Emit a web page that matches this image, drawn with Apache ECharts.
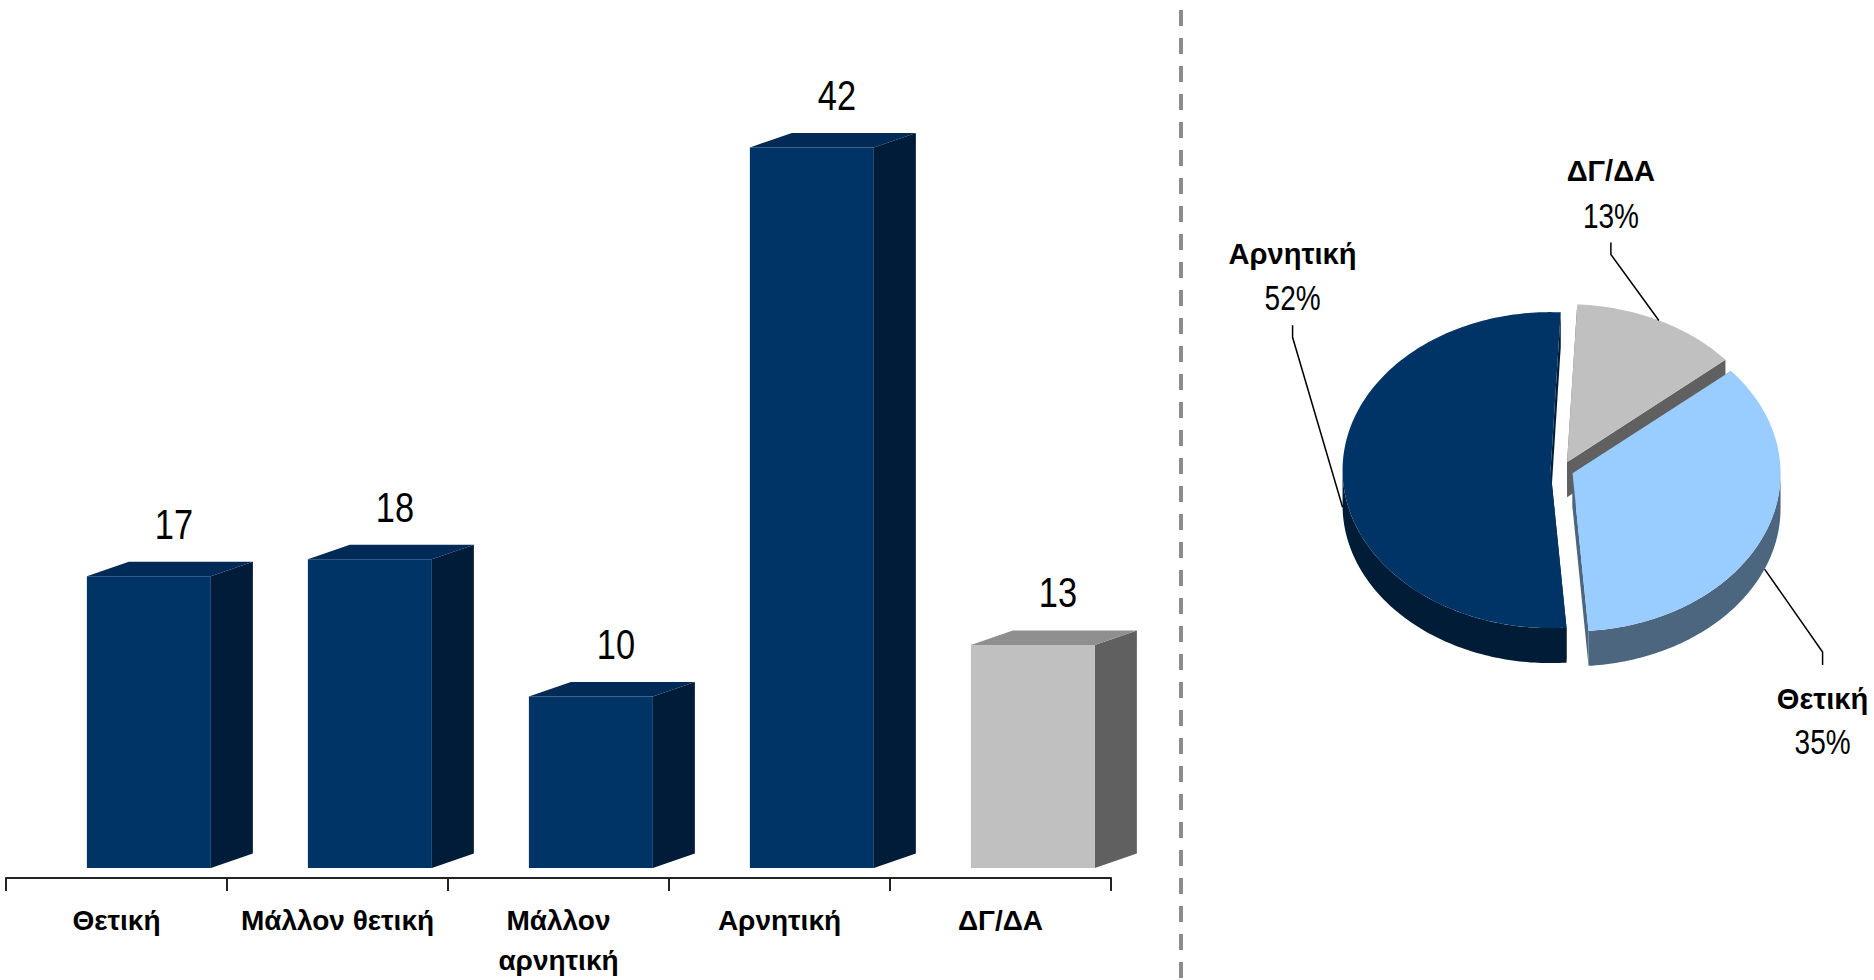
<!DOCTYPE html>
<html>
<head>
<meta charset="utf-8">
<script src="https://cdn.jsdelivr.net/npm/echarts@6/dist/echarts.min.js"></script>
<style>
  html, body { margin: 0; padding: 0; background: #ffffff; }
  #chart { width: 1874px; height: 980px; }
</style>
</head>
<body>
<div id="chart"></div>
<script>
// Answers in detail (3D columns) and grouped answers (3D pie)
const categories = ['Θετική', 'Μάλλον θετική', 'Μάλλον\nαρνητική', 'Αρνητική', 'ΔΓ/ΔΑ'];
const barValues = [17, 18, 10, 42, 13];

const pieNames = ['ΔΓ/ΔΑ', 'Θετική', 'Αρνητική'];
const pieValues = [13, 35, 52];

const SANS = "'Liberation Sans', Arial, sans-serif";
const CONDENSE = 0.8; // horizontal squeeze giving a narrow face

// column faces: [front, side, top]
const navyFaces = ['#003366', '#011c38', '#022a56'];
const greyFaces = ['#c0c0c0', '#606060', '#8f8f8f'];
function barFaces(name) { return name === 'ΔΓ/ΔΑ' ? greyFaces : navyFaces; }

// pie slice faces: [top, wall]
const pieFaces = {
  'ΔΓ/ΔΑ': ['#c0c0c0', '#606060'],
  'Θετική': ['#99ccff', '#4d6680'],
  'Αρνητική': ['#003366', '#011c36']
};

// tilted pie geometry
const PIE = { cx: 1562, cy: 470, rx: 208, ry: 158, depth: 35, explode: 0.055, startDeg: 2.8 };
// leader-line elbow, relative to the slice anchor
const pieLabelElbow = { 'ΔΓ/ΔΑ': [-48, -66], 'Θετική': [58, 83], 'Αρνητική': [-50, -170] };

// centred text, optionally squeezed horizontally around its own position
function textEl(str, x, y, size, bold, squeeze) {
  return {
    type: 'text', x: x, y: y, scaleX: squeeze || 1,
    style: { text: str, x: 0, y: 0, align: 'center', verticalAlign: 'middle',
             fontFamily: SANS, fontWeight: bold ? 'bold' : 'normal', fontSize: size, fill: '#000000' }
  };
}

function columnItem(params, api) {
  const idx = api.value(0);
  const val = api.value(1);
  const base = api.coord([idx, 0]);
  const top = api.coord([idx, val]);
  const band = api.size([1, 0])[0];
  const left = base[0] - band / 2 + band * 0.366;
  const w = band * 0.561;
  const dx = band * 0.19;
  const dy = dx * 0.345;
  const faces = barFaces(categories[idx]);
  const y0 = base[1], y1 = top[1];
  return {
    type: 'group',
    children: [
      { type: 'polygon', shape: { points: [[left + w, y1], [left + w + dx, y1 - dy], [left + w + dx, y0 - dy], [left + w, y0]] },
        style: { fill: faces[1] } },
      { type: 'polygon', shape: { points: [[left, y1], [left + dx, y1 - dy], [left + w + dx, y1 - dy], [left + w, y1]] },
        style: { fill: faces[2] } },
      { type: 'rect', shape: { x: left, y: y1, width: w, height: y0 - y1 },
        style: { fill: faces[0] } },
      textEl(String(val), left + w / 2 + dx / 2 + 4, y1 - dy - 38, 43, false, CONDENSE)
    ]
  };
}

function pieItem(params, api) {
  const i = params.dataIndex;
  const name = pieNames[i];
  const total = pieValues.reduce((a, b) => a + b, 0);
  let before = 0;
  for (let k = 0; k < i; k++) before += pieValues[k];
  const val = api.value(0);
  const rad = Math.PI / 180;
  const a0 = (PIE.startDeg + before / total * 360) * rad;
  const a1 = (PIE.startDeg + (before + val) / total * 360) * rad;
  const am = (a0 + a1) / 2;
  const ox = PIE.cx + PIE.explode * PIE.rx * Math.sin(am);
  const oy = PIE.cy - PIE.explode * PIE.ry * Math.cos(am);
  const pt = (a, dz) => [ox + PIE.rx * Math.sin(a), oy - PIE.ry * Math.cos(a) + (dz || 0)];
  const arc = (s, e, dz) => {
    const n = Math.max(2, Math.ceil(Math.abs(e - s) / rad));
    const out = [];
    for (let k = 0; k <= n; k++) out.push(pt(s + (e - s) * k / n, dz));
    return out;
  };
  const faces = pieFaces[name];
  const children = [];
  const d = PIE.depth;

  // radial cut faces
  [a0, a1].forEach(a => {
    children.push({ type: 'polygon', shape: { points: [[ox, oy], pt(a), pt(a, d), [ox, oy + d]] },
                    style: { fill: faces[1] } });
  });
  // outer wall, front half only
  [[Math.PI / 2, Math.PI * 1.5], [Math.PI * 2.5, Math.PI * 3.5]].forEach(([f0, f1]) => {
    const s = Math.max(a0, f0), e = Math.min(a1, f1);
    if (e > s) {
      const upper = arc(s, e, 0);
      const lower = arc(s, e, d).reverse();
      children.push({ type: 'polygon', shape: { points: upper.concat(lower) }, style: { fill: faces[1] } });
    }
  });
  // top face
  children.push({ type: 'polygon', shape: { points: [[ox, oy]].concat(arc(a0, a1, 0)) },
                  style: { fill: faces[0] } });

  // leader line and label
  const anchor = pt(am, Math.cos(am) < 0.1 ? d : 0);
  const off = pieLabelElbow[name];
  const elbow = [anchor[0] + off[0], anchor[1] + off[1]];
  const up = off[1] < 0;
  const stub = [elbow[0], elbow[1] + (up ? -12 : 13)];
  children.push({ type: 'polyline', shape: { points: [anchor, elbow, stub] },
                  style: { stroke: '#000000', lineWidth: 1.5, fill: null } });
  let nameY, pctY;
  if (up) { pctY = stub[1] - 27; nameY = pctY - 45; }
  else { nameY = stub[1] + 33; pctY = nameY + 44; }
  const pct = Math.round(val / total * 100) + '%';
  children.push(textEl(name, stub[0], nameY, 30, true, 0.97));
  children.push(textEl(pct, stub[0], pctY, 35, false, CONDENSE));
  return { type: 'group', children: children };
}

const chart = echarts.init(document.getElementById('chart'), null, { renderer: 'svg' });
chart.setOption({
  animation: false,
  backgroundColor: '#ffffff',
  grid: { left: 6, right: 763, top: 96, bottom: 112, containLabel: false },
  xAxis: {
    type: 'category',
    data: categories,
    offset: 10,
    axisLine: { show: true, onZero: false, lineStyle: { color: '#222222', width: 2 } },
    axisTick: { show: true, length: 13, lineStyle: { color: '#222222', width: 2 } },
    axisLabel: { interval: 0, margin: 22, color: '#000000', fontFamily: SANS, fontWeight: 'bold',
                 fontSize: 28, lineHeight: 40 }
  },
  yAxis: { type: 'value', min: 0, max: 45, show: false, splitLine: { show: false } },
  graphic: [{
    type: 'line', shape: { x1: 1181, y1: 0, x2: 1181, y2: 980 },
    style: { stroke: '#8c8c8c', lineWidth: 4, lineDash: [16, 12], lineDashOffset: 18 }
  }],
  series: [
    {
      type: 'custom',
      renderItem: columnItem,
      clip: false,
      encode: { x: 0, y: 1 },
      data: barValues.map((v, i) => [i, v])
    },
    {
      type: 'custom',
      coordinateSystem: 'none',
      renderItem: pieItem,
      data: pieValues.map((v, i) => ({ name: pieNames[i], value: [v] }))
    }
  ]
});
</script>
</body>
</html>
